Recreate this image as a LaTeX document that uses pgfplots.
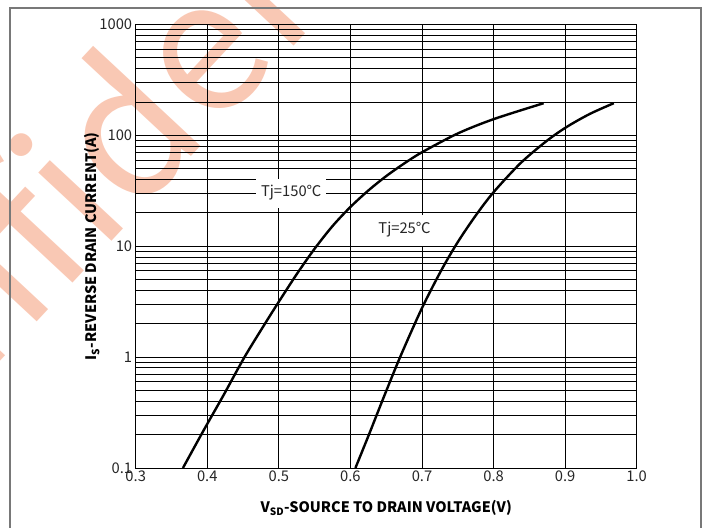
\documentclass[border=0pt]{standalone}
\usepackage{fontspec}
\setmainfont{Noto Sans CJK SC}
\usepackage{pgfplots}
\pgfplotsset{compat=1.18}
\definecolor{wm}{RGB}{249,200,180}
\definecolor{framegray}{RGB}{120,120,120}
\pgfplotstableread{
x y
0.366 0.1
0.395 0.219
0.423 0.457
0.452 1.0
0.481 2.02
0.500 3.16
0.525 5.6
0.550 9.5
0.575 15.2
0.600 22.6
0.625 31.8
0.650 42.9
0.675 55.7
0.700 70.4
0.750 104
0.800 140
0.870 195
}\hot
\pgfplotstableread{
x y
0.607 0.1
0.626 0.201
0.647 0.442
0.670 1.02
0.700 2.77
0.727 6.07
0.750 10.9
0.775 18.9
0.800 30.7
0.838 56.4
0.875 89.9
0.903 120
0.935 156.7
0.968 195
}\cold
\begin{document}
\begin{tikzpicture}
\useasboundingbox (0bp,0bp) rectangle (711bp,528bp);
\begin{scope}
\clip (0bp,0bp) rectangle (711bp,528bp);
\node[rotate=47, anchor=base west, text=wm, inner sep=0pt, font=\fontsize{185}{185}\selectfont] at (-174bp,-20bp) {Confidential};
\draw[framegray, line width=1.2bp] (10bp,-5bp) -- (10bp,520bp) -- (701bp,520bp) -- (701bp,-5bp);
\end{scope}
\begin{axis}[
  at={(135.7bp,60bp)}, anchor=south west,
  scale only axis, width=501bp, height=443.5bp,
  ymode=log, xmin=0.3, xmax=1.0, ymin=0.1, ymax=1000,
  xtick={0.3,0.4,0.5,0.6,0.7,0.8,0.9,1.0},
  xticklabels={0.3,0.4,0.5,0.6,0.7,0.8,0.9,1.0},
  ytick={0.1,1,10,100,1000},
  yticklabels={0.1,1,10,100,1000},
  grid=both,
  major grid style={black, line width=0.9bp},
  minor grid style={black, line width=0.9bp},
  major tick length=0pt, minor tick length=0pt,
  axis line style={black, line width=1bp},
  tick label style={font=\fontsize{14.8}{17}\selectfont, text=black!85},
  xticklabel style={yshift=1bp},
  xlabel={\bfseries V\textsubscript{SD}-SOURCE TO DRAIN VOLTAGE(V)},
  ylabel={\bfseries I\textsubscript{S}-REVERSE DRAIN CURRENT(A)},
  label style={font=\fontsize{14.5}{17}\selectfont},
  xlabel style={at={(axis description cs:0.5,-0.0902)}, anchor=center},
  ylabel style={at={(axis description cs:-0.0872,0.5)}, anchor=center},
]
\addplot[black, line width=2.4bp, smooth] table[x=x,y=y] {\hot};
\addplot[black, line width=2.4bp, smooth] table[x=x,y=y] {\cold};
\node[fill=white, inner xsep=5bp, inner ysep=7bp, font=\fontsize{14.8}{17}\selectfont, text=black!85] at (axis cs:0.5174,30.2) {Tj=150℃};
\node[fill=white, inner xsep=5bp, inner ysep=8bp, font=\fontsize{14.8}{17}\selectfont, text=black!85] at (axis cs:0.6756,14.0) {Tj=25℃};
\end{axis}
\end{tikzpicture}
\end{document}
